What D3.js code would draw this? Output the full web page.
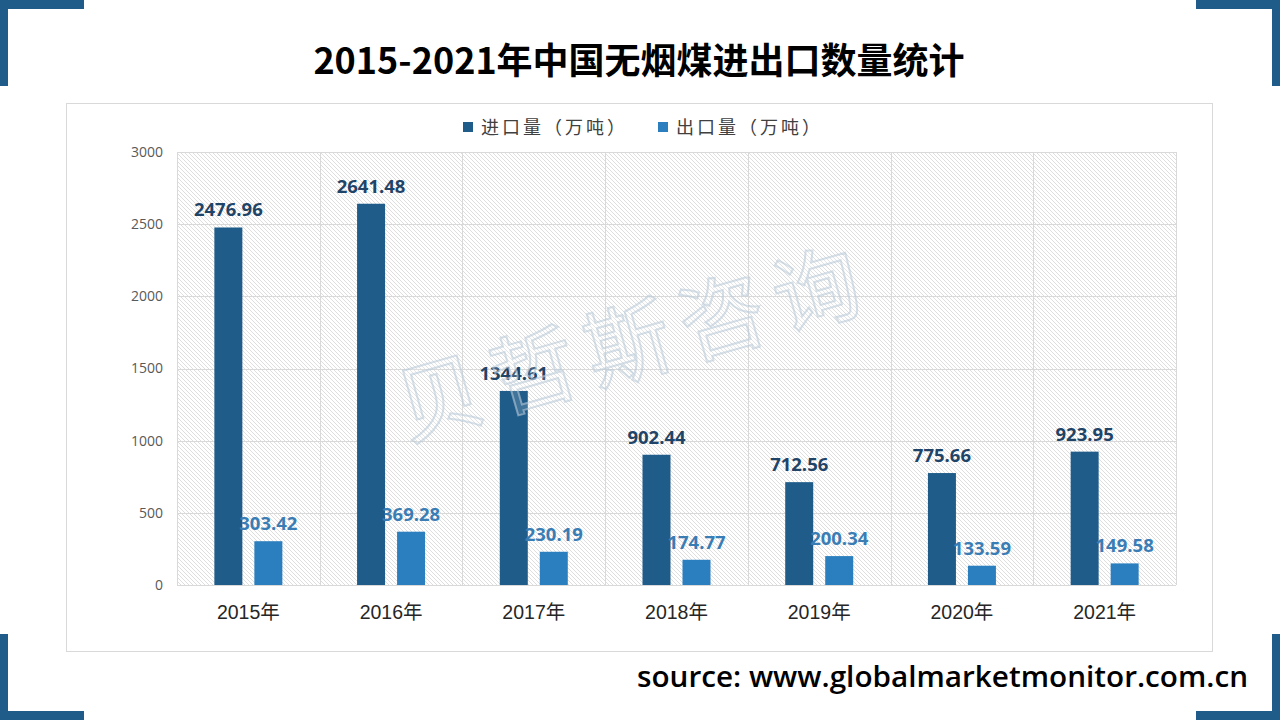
<!DOCTYPE html>
<html><head><meta charset="utf-8">
<script src="https://cdn.jsdelivr.net/npm/d3@7"></script>
<style>body{margin:0;background:#fff;}svg{display:block;}</style>
</head><body>
<svg id="c" width="1280" height="720"></svg>
<script>
const categories = ["2015年","2016年","2017年","2018年","2019年","2020年","2021年"];
const importValues = [2476.96, 2641.48, 1344.61, 902.44, 712.56, 775.66, 923.95];
const exportValues = [303.42, 369.28, 230.19, 174.77, 200.34, 133.59, 149.58];
const seriesNames = ["进口量（万吨）","出口量（万吨）"];
const yTicks = [0, 500, 1000, 1500, 2000, 2500, 3000];
const titleText = "2015-2021年中国无烟煤进出口数量统计";
const sourceText = "source: www.globalmarketmonitor.com.cn";
const watermarkText = "贝哲斯咨询";

const colors = ["#1f5c89", "#2b7fbf"];
const labelColors = ["#1f4467", "#3a7db4"];

const svg = d3.select("#c");
const defs = svg.append("defs");
const pat = defs.append("pattern").attr("id","hatch").attr("patternUnits","userSpaceOnUse")
  .attr("width",4).attr("height",4);
pat.append("rect").attr("width",4).attr("height",4).attr("fill","#fff");
pat.append("path").attr("d","M-1,-1 L5,5 M-1,3 L1,5 M3,-1 L5,1").attr("stroke","#d6d6d6").attr("stroke-width",0.8);

// corner brackets
const bc = "#1f5c89";
[[0,0,84,9],[0,0,8,86],[1196,0,84,9],[1272,0,8,86],[0,711,84,9],[0,634,8,86],[1196,711,84,9],[1272,634,8,86]]
  .forEach(r => svg.append("rect").attr("x",r[0]).attr("y",r[1]).attr("width",r[2]).attr("height",r[3]).attr("fill",bc));

// title
svg.append("text").attr("x",639).attr("y",74).attr("text-anchor","middle")
  .attr("font-family","'Noto Sans CJK SC','Open Sans',sans-serif").attr("font-weight",700)
  .attr("font-size",36).attr("fill","#000").text(titleText);

// chart box
svg.append("rect").attr("x",66.5).attr("y",103.5).attr("width",1146).attr("height",548)
  .attr("fill","#fff").attr("stroke","#d9d9d9").attr("stroke-width",1);

const m = {l:177, r:1176, t:152, b:585};
const x = d3.scaleBand().domain(categories).range([m.l, m.r]);
const y = d3.scaleLinear().domain([0,3000]).range([m.b, m.t]);

svg.append("rect").attr("x",m.l).attr("y",m.t).attr("width",m.r-m.l).attr("height",m.b-m.t).attr("fill","url(#hatch)");

// gridlines
const g = svg.append("g");
g.selectAll("line.h").data(yTicks).join("line")
  .attr("x1",m.l).attr("x2",m.r).attr("y1",d=>Math.round(y(d))+0.5).attr("y2",d=>Math.round(y(d))+0.5)
  .attr("stroke","#d9d9d9");
const vlines = categories.map(c => x(c)).concat([m.r]);
g.selectAll("line.v").data(vlines).join("line")
  .attr("x1",d=>Math.round(d)+0.5).attr("x2",d=>Math.round(d)+0.5).attr("y1",m.t).attr("y2",m.b)
  .attr("stroke","#d9d9d9");

// y axis
const yAxis = d3.axisLeft(y).tickValues(yTicks).tickFormat(d3.format("d")).tickSize(0).tickPadding(14);
const ya = svg.append("g").attr("transform",`translate(${m.l},0)`).call(yAxis);
ya.select(".domain").remove();
ya.selectAll("text").attr("font-family","'Open Sans',sans-serif").attr("font-size",14).attr("fill","#595959");

// x axis
const xAxis = d3.axisBottom(x).tickSize(0).tickPadding(20);
const xa = svg.append("g").attr("transform",`translate(0,${m.b})`).call(xAxis);
xa.select(".domain").remove();
xa.selectAll("text").attr("font-family","'Liberation Sans','Noto Sans CJK SC',sans-serif").attr("font-size",19.5).attr("fill","#262626");

// bars
const barW = 28, gap = 12;
const series = [importValues, exportValues];
series.forEach((vals, si) => {
  const off = si === 0 ? -(gap/2 + barW) : gap/2;
  const cx = c => x(c) + x.bandwidth()/2 + off;
  svg.append("g").selectAll("rect").data(vals).join("rect")
    .attr("x",(d,i)=>cx(categories[i])).attr("y",d=>y(d))
    .attr("width",barW).attr("height",d=>y(0)-y(d)).attr("fill",colors[si]);
  svg.append("g").selectAll("text").data(vals).join("text")
    .attr("x",(d,i)=>cx(categories[i])+barW/2).attr("y",d=>y(d)-11)
    .attr("text-anchor","middle").attr("font-family","'Open Sans',sans-serif")
    .attr("font-weight",700).attr("font-size",18.5).attr("fill",labelColors[si])
    .text(d=>d.toFixed(2));
});

// legend
const legX = [463, 658];
seriesNames.forEach((n,i)=>{
  svg.append("rect").attr("x",legX[i]).attr("y",122).attr("width",10).attr("height",10).attr("fill",colors[i]);
  svg.append("text").attr("x",legX[i]+18).attr("y",134).attr("font-family","'Noto Sans CJK SC',sans-serif")
    .attr("font-size",18).attr("letter-spacing",3).attr("fill","#404040").text(n);
});

// watermark
svg.append("text").attr("transform","translate(636,350) rotate(-16)")
  .attr("text-anchor","middle").attr("font-family","'Noto Sans CJK SC',sans-serif")
  .attr("font-size",86).attr("letter-spacing",12)
  .attr("fill","rgba(255,255,255,0.15)").attr("stroke","#b9cad8").attr("stroke-width",2)
  .attr("stroke-opacity",0.6).attr("dominant-baseline","middle").text(watermarkText);

// source
svg.append("text").attr("x",1248).attr("y",687).attr("text-anchor","end")
  .attr("font-family","'Open Sans',sans-serif").attr("font-weight",600)
  .attr("font-size",29.7).attr("fill","#000").text(sourceText);
</script>
</body></html>
